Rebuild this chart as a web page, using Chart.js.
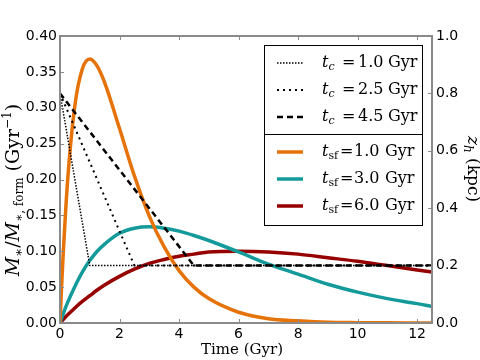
<!DOCTYPE html>
<html>
<head>
<meta charset="utf-8">
<script src="https://cdn.jsdelivr.net/npm/chart.js@4"></script>
<style>
  html, body { margin: 0; padding: 0; background: #fff; }
  #wrap { width: 480px; height: 360px; }
</style>
</head>
<body>
<div id="wrap"><canvas id="chart" width="480" height="360"></canvas></div>
<script>
// time grid (Gyr) for the star formation curves
const tGrid = [0, 0.05, 0.1, 0.25, 0.5, 0.75, 1, 1.25, 1.5, 2, 2.5, 3, 3.5, 4, 4.5, 5, 6, 7, 8, 9, 10, 11, 12, 12.5];

// M*/M*,form (Gyr^-1)
const sf1 = [0, 0.048, 0.090, 0.195, 0.303, 0.354, 0.368, 0.358, 0.335, 0.271, 0.205, 0.149, 0.106, 0.073, 0.050, 0.034, 0.015, 0.006, 0.003, 0.001, 0.0005, 0.0002, 0.0001, 0];
const sf3 = [0, 0.006, 0.012, 0.028, 0.051, 0.071, 0.087, 0.100, 0.110, 0.125, 0.132, 0.134, 0.132, 0.128, 0.122, 0.115, 0.099, 0.082, 0.068, 0.054, 0.043, 0.034, 0.027, 0.023];
const sf6 = [0, 0.0022, 0.0045, 0.011, 0.021, 0.030, 0.038, 0.046, 0.053, 0.065, 0.075, 0.083, 0.0885, 0.093, 0.096, 0.099, 0.100, 0.099, 0.096, 0.091, 0.086, 0.080, 0.074, 0.071];

// scale height z_h (kpc), right axis
const tc1T = [0, 1.0, 12.5];
const tc1Z = [0.8, 0.2, 0.2];
const tc25T = [0, 2.5, 12.5];
const tc25Z = [0.8, 0.2, 0.2];
const tc45T = [0, 4.5, 12.5];
const tc45Z = [0.8, 0.2, 0.2];

// ticks
const xTicks = [0, 2, 4, 6, 8, 10, 12];
const yTicks = [0, 0.05, 0.10, 0.15, 0.20, 0.25, 0.30, 0.35, 0.40];
const y1Ticks = [0, 0.2, 0.4, 0.6, 0.8, 1.0];

const cOrange = '#e6730a';
const cTeal = '#149a9a';
const cRed = '#960000';
const axisGray = '#8a8a8a';
const serif = '"DejaVu Serif", "Liberation Serif", serif';

const pts = (xs, ys) => xs.map((x, i) => ({ x: x, y: ys[i] }));

// draws pieces of text (italic, sub/superscript); a piece with "at" starts at that offset
const drawRuns = (ctx, runs, x, y, align) => {
  let w = 0;
  runs.forEach(r => {
    ctx.font = (r.it ? 'italic ' : '') + r.s + 'px ' + serif;
    r.w = ctx.measureText(r.t).width;
    w += r.w;
  });
  let cx = align === 'center' ? x - w / 2 : x;
  ctx.textBaseline = 'alphabetic';
  ctx.textAlign = 'left';
  runs.forEach(r => {
    if (r.at !== undefined) cx = x + r.at;
    ctx.font = (r.it ? 'italic ' : '') + r.s + 'px ' + serif;
    ctx.fillText(r.t, cx, y + (r.dy || 0));
    cx += r.w;
  });
};

const tcRuns = (val) => [
  { t: 't', it: true, s: 16, at: 0 }, { t: 'c', it: true, s: 11, dy: 3 },
  { t: '=', s: 16, at: 20 }, { t: val, s: 16, at: 36 }, { t: 'Gyr', s: 16, at: 66 }
];
const sfRuns = (val) => [
  { t: 't', it: true, s: 16, at: 0 }, { t: 'sf', s: 11, dy: 3 },
  { t: '=', s: 16, at: 18 }, { t: val, s: 16, at: 32 }, { t: 'Gyr', s: 16, at: 63 }
];

const legendTop = [
  { dash: [1.5, 1.5], width: 1.5, color: '#000', runs: tcRuns('1.0') },
  { dash: [2, 4], width: 2, color: '#000', runs: tcRuns('2.5') },
  { dash: [6, 4], width: 2.5, color: '#000', runs: tcRuns('4.5') },
];
const legendBottom = [
  { dash: [], width: 3.5, color: cOrange, runs: sfRuns('1.0') },
  { dash: [], width: 3.5, color: cTeal, runs: sfRuns('3.0') },
  { dash: [], width: 3.5, color: cRed, runs: sfRuns('6.0') },
];

const drawLegend = (ctx, items, top, bottom, baselines) => {
  ctx.save();
  ctx.fillStyle = '#fff';
  ctx.fillRect(264.5, top + 0.5, 158, bottom - top);
  ctx.strokeStyle = '#000';
  ctx.lineWidth = 1;
  ctx.strokeRect(264.5, top + 0.5, 158, bottom - top);
  items.forEach((it, i) => {
    const y = baselines[i];
    ctx.beginPath();
    ctx.setLineDash(it.dash);
    ctx.lineWidth = it.width;
    ctx.strokeStyle = it.color;
    ctx.moveTo(277, y - 4);
    ctx.lineTo(303, y - 4);
    ctx.stroke();
    ctx.setLineDash([]);
    ctx.fillStyle = '#000';
    drawRuns(ctx, it.runs, 322, y, 'left');
  });
  ctx.restore();
};

const framePlugin = {
  id: 'frame',
  afterDatasetsDraw(chart) {
    const { ctx, chartArea: a, scales } = chart;
    ctx.save();
    ctx.strokeStyle = axisGray;
    ctx.lineWidth = 1;
    ctx.beginPath();
    xTicks.forEach(v => {
      const px = Math.round(scales.x.getPixelForValue(v)) + 0.5;
      ctx.moveTo(px, a.bottom); ctx.lineTo(px, a.bottom - 4);
      ctx.moveTo(px, a.top); ctx.lineTo(px, a.top + 4);
    });
    yTicks.forEach(v => {
      const py = Math.round(scales.y.getPixelForValue(v)) + 0.5;
      ctx.moveTo(a.left, py); ctx.lineTo(a.left + 4, py);
    });
    y1Ticks.forEach(v => {
      const py = Math.round(scales.y1.getPixelForValue(v)) + 0.5;
      ctx.moveTo(a.right, py); ctx.lineTo(a.right - 4, py);
    });
    ctx.stroke();
    ctx.lineWidth = 2;
    ctx.strokeRect(a.left, a.top, a.right - a.left, a.bottom - a.top);
    ctx.restore();
  },
  afterDraw(chart) {
    const { ctx } = chart;
    ctx.save();
    ctx.fillStyle = '#000';
    // x title
    drawRuns(ctx, [{ t: 'Time (Gyr)', s: 15 }], 242, 354, 'center');
    // left title
    ctx.save();
    ctx.translate(19, 190);
    ctx.rotate(-Math.PI / 2);
    drawRuns(ctx, [
      { t: 'M', it: true, s: 19 }, { t: '∗', s: 13, dy: 4 }, { t: '/', s: 19 },
      { t: 'M', it: true, s: 19 }, { t: '∗, form', s: 12, dy: 4 },
      { t: ' (Gyr', s: 19 }, { t: '−1', s: 12, dy: -8 }, { t: ')', s: 19 }
    ], 0, 0, 'center');
    ctx.restore();
    // right title
    ctx.save();
    ctx.translate(468, 169);
    ctx.rotate(Math.PI / 2);
    drawRuns(ctx, [{ t: 'z', it: true, s: 17 }, { t: 'h', it: true, s: 12, dy: 4 }, { t: ' (kpc)', s: 17 }], 0, 0, 'center');
    ctx.restore();
    ctx.restore();
    drawLegend(ctx, legendTop, 45, 135, [67, 94, 121]);
    drawLegend(ctx, legendBottom, 134, 225, [156, 183, 210]);
  }
};

const tickFont = { family: '"DejaVu Sans", sans-serif', size: 14 };

new Chart(document.getElementById('chart'), {
  type: 'line',
  data: {
    datasets: [
      { data: pts(tc1T, tc1Z), yAxisID: 'y1', borderColor: '#000', borderWidth: 1.5, borderDash: [1.5, 1.5], pointRadius: 0, tension: 0 },
      { data: pts(tc25T, tc25Z), yAxisID: 'y1', borderColor: '#000', borderWidth: 2, borderDash: [2, 4], pointRadius: 0, tension: 0 },
      { data: pts(tc45T, tc45Z), yAxisID: 'y1', borderColor: '#000', borderWidth: 2.5, borderDash: [6, 4], pointRadius: 0, tension: 0 },
      { data: pts(tGrid, sf1), yAxisID: 'y', borderColor: cOrange, borderWidth: 3.5, pointRadius: 0, cubicInterpolationMode: 'monotone' },
      { data: pts(tGrid, sf3), yAxisID: 'y', borderColor: cTeal, borderWidth: 3.5, pointRadius: 0, cubicInterpolationMode: 'monotone' },
      { data: pts(tGrid, sf6), yAxisID: 'y', borderColor: cRed, borderWidth: 3.5, pointRadius: 0, cubicInterpolationMode: 'monotone' },
    ]
  },
  options: {
    responsive: false,
    animation: false,
    layout: { padding: { top: 36, left: 0, right: 0, bottom: 0 } },
    plugins: { legend: { display: false }, tooltip: { enabled: false } },
    scales: {
      x: {
        type: 'linear', min: 0, max: 12.5,
        grid: { display: false, drawTicks: false },
        border: { display: false },
        afterBuildTicks: (s) => { s.ticks = xTicks.map(v => ({ value: v })); },
        afterFit: (s) => { s.height = 37; },
        ticks: { color: '#000', font: tickFont, padding: 3, maxRotation: 0, callback: (v) => String(v) }
      },
      y: {
        position: 'left', min: 0, max: 0.4,
        grid: { display: false, drawTicks: false },
        border: { display: false },
        afterBuildTicks: (s) => { s.ticks = yTicks.map(v => ({ value: v })); },
        afterFit: (s) => { s.width = 60; },
        ticks: { color: '#000', font: tickFont, padding: 3, callback: (v) => v.toFixed(2) }
      },
      y1: {
        position: 'right', min: 0, max: 1.0,
        grid: { display: false, drawTicks: false },
        border: { display: false },
        afterBuildTicks: (s) => { s.ticks = y1Ticks.map(v => ({ value: v })); },
        afterFit: (s) => { s.width = 48; },
        ticks: { color: '#000', font: tickFont, padding: 4, callback: (v) => v.toFixed(1) }
      }
    }
  },
  plugins: [framePlugin]
});
</script>
</body>
</html>
